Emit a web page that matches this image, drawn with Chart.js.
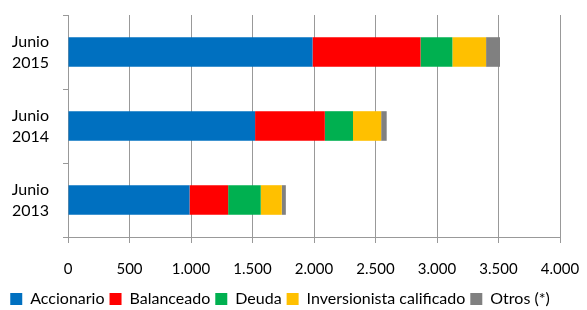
<!DOCTYPE html>
<html>
<head>
<meta charset="utf-8">
<script src="https://cdn.jsdelivr.net/npm/chart.js@4"></script>
<style>
  html, body { margin: 0; padding: 0; background: #fff; }
  #wrap { width: 587px; height: 310px; }
</style>
</head>
<body>
<div id="wrap"><canvas id="chart" width="587" height="310"></canvas></div>
<script>
const categories = [["Junio", "2015"], ["Junio", "2014"], ["Junio", "2013"]];
const seriesNames = ["Accionario", "Balanceado", "Deuda", "Inversionista calificado", "Otros (*)"];
const accionario = [1988, 1521, 988];
const balanceado = [878, 567, 314];
const deuda = [259, 229, 265];
const inversionista = [274, 229, 171];
const otros = [113, 45, 33];
const xTicks = [0, 500, 1000, 1500, 2000, 2500, 3000, 3500, 4000];

const colors = ["#0070C0", "#FF0000", "#00B050", "#FFC000", "#808080"];
const values = [accionario, balanceado, deuda, inversionista, otros];

const fmt = (v) => String(v).replace(/\B(?=(\d{3})+(?!\d))/g, ".");

const datasets = seriesNames.map((name, i) => ({
    label: name,
    data: values[i],
    backgroundColor: colors[i],
    borderWidth: 0,
    categoryPercentage: 1,
    barPercentage: 0.4,
}));

new Chart(document.getElementById("chart"), {
    type: "bar",
    data: { labels: categories, datasets },
    options: {
        indexAxis: "y",
        responsive: false,
        animation: false,
        layout: { padding: { top: 15, right: 27, left: 0, bottom: -7 } },
        plugins: {
            legend: {
                position: "bottom",
                labels: {
                    boxWidth: 12,
                    boxHeight: 12,
                    padding: 5,
                    color: "#000",
                    font: { family: "Lato", size: 16 },
                },
            },
            tooltip: { enabled: false },
        },
        scales: {
            x: {
                stacked: true,
                min: 0,
                max: 4000,
                afterBuildTicks: (axis) => {
                    axis.ticks = xTicks.map((v) => ({ value: v }));
                },
                afterFit: (axis) => {
                    // trim the box so the labels sit close to the legend
                    axis.height -= 9;
                    axis.paddingLeft = 0;
                    axis.paddingRight = 0;
                },
                ticks: {
                    callback: (v) => fmt(v),
                    color: "#000",
                    padding: 17,
                    maxRotation: 0,
                    font: { family: "Lato", size: 15 },
                },
                grid: { color: "#999", lineWidth: 1, tickLength: 6 },
                border: { color: "#999" },
            },
            y: {
                stacked: true,
                afterFit: (axis) => {
                    axis.width = 68;
                    axis.paddingTop = 0;
                    axis.paddingBottom = 0;
                },
                ticks: {
                    color: "#000",
                    padding: 14,
                    font: { family: "Lato", size: 16, lineHeight: 1.3 },
                },
                grid: {
                    offset: true,
                    drawOnChartArea: false,
                    color: "#999",
                    tickLength: 5,
                },
                border: { color: "#999" },
            },
        },
    },
});
</script>
</body>
</html>
